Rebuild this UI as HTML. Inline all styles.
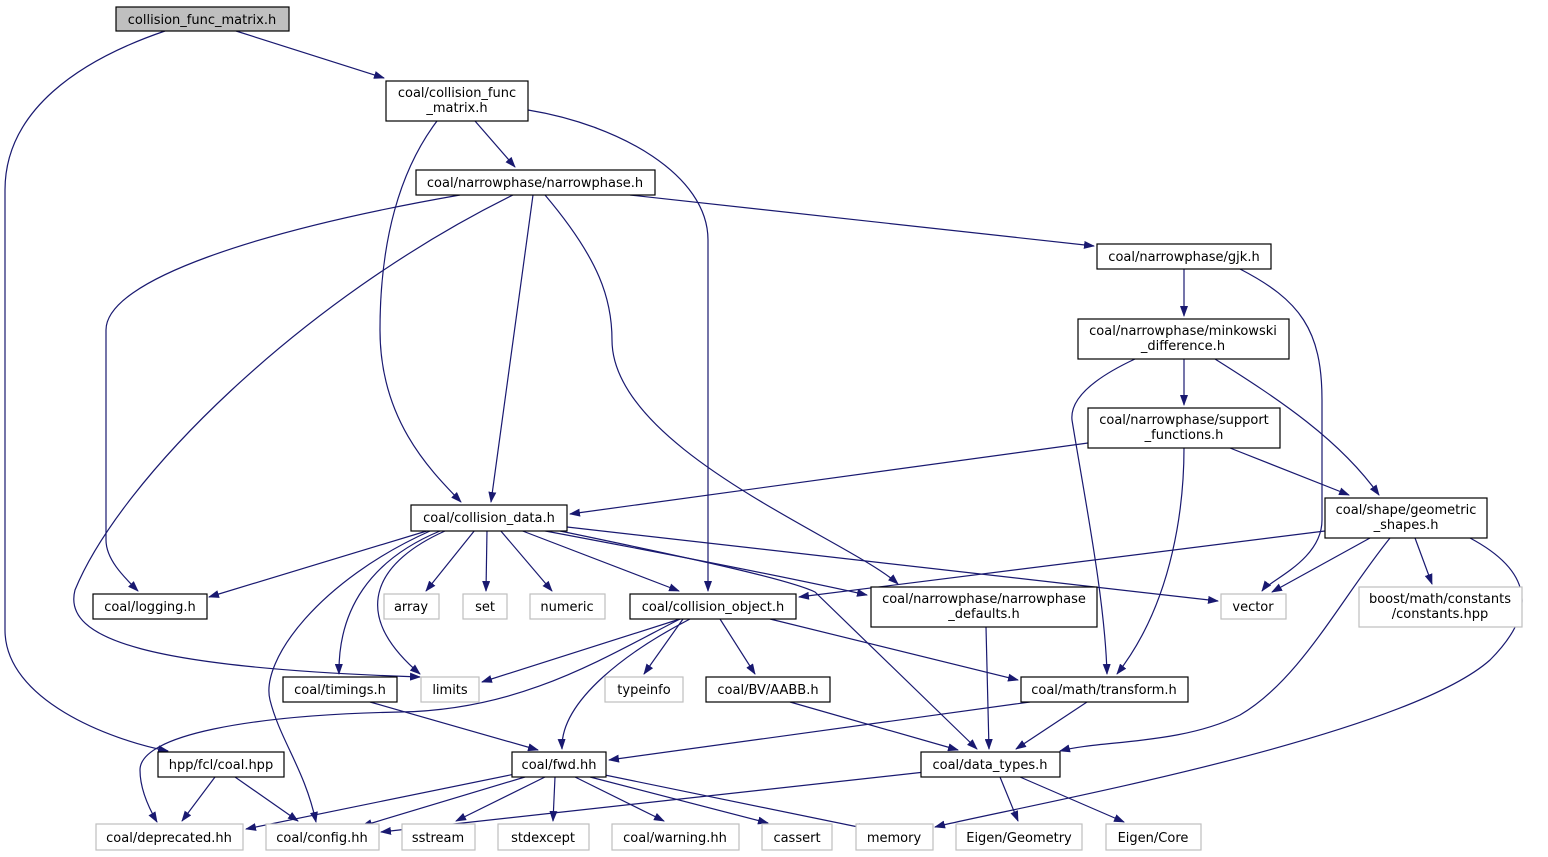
<!DOCTYPE html>
<html><head><meta charset="utf-8"><style>
html,body{margin:0;padding:0;background:#fff;}
svg{display:block;}
text{font-family:"DejaVu Sans","Liberation Sans",sans-serif;font-size:13px;fill:#000;}
.b{fill:#fff;stroke:#000;stroke-width:1.2;}
.g{fill:#fff;stroke:#bfbfbf;stroke-width:1.2;}
.e{fill:none;stroke:#191970;stroke-width:1.2;marker-end:url(#a);}
</style></head><body>
<svg width="1548" height="857" viewBox="0 0 1548 857" xmlns="http://www.w3.org/2000/svg">
<defs><marker id="a" markerWidth="11" markerHeight="8" refX="10" refY="4" orient="auto" markerUnits="userSpaceOnUse"><polygon points="0,0 11,4 0,8" fill="#191970"/></marker></defs>
<g>
<path class="e" d="M236,31 L384,78"/>
<path class="e" d="M165,31 C80,60 5,110 5,190 L5,630 C5,700 110,740 168,751"/>
<path class="e" d="M475,121 L515,167"/>
<path class="e" d="M437,121 C400,170 380,240 380,330 C380,420 430,470 461,502"/>
<path class="e" d="M528,110 C620,125 708,175 708,240 L708,591"/>
<path class="e" d="M630,195 L1094,246"/>
<path class="e" d="M460,195 C260,230 106,280 106,330 L106,540 C106,560 125,578 138,591"/>
<path class="e" d="M513,195 C300,300 120,480 75,590 C62,640 150,668 420,677"/>
<path class="e" d="M533,195 L491,502"/>
<path class="e" d="M545,195 C600,260 612,300 612,340 C612,450 850,540 898,584"/>
<path class="e" d="M1184,269 L1184,316"/>
<path class="e" d="M1240,269 C1300,300 1322,330 1322,400 L1322,520 C1322,560 1270,580 1262,591"/>
<path class="e" d="M1184,359 L1184,405"/>
<path class="e" d="M1215,359 C1280,400 1340,440 1379,495"/>
<path class="e" d="M1135,359 C1090,380 1070,400 1072,420 C1085,500 1105,600 1107,674"/>
<path class="e" d="M1088,443 L570,514"/>
<path class="e" d="M1230,448 L1349,495"/>
<path class="e" d="M1184,448 C1184,500 1175,600 1117,674"/>
<path class="e" d="M1325,531 L799,597"/>
<path class="e" d="M1370,538 L1272,592"/>
<path class="e" d="M1390,538 C1340,600 1300,680 1240,715 C1180,745 1100,740 1060,751"/>
<path class="e" d="M1470,538 C1530,570 1540,610 1490,660 C1400,740 1000,810 935,827"/>
<path class="e" d="M1415,538 L1432,584"/>
<path class="e" d="M430,530 L209,597"/>
<path class="e" d="M475,530 L426,591"/>
<path class="e" d="M487,530 L486,591"/>
<path class="e" d="M500,530 L552,591"/>
<path class="e" d="M520,530 L679,591"/>
<path class="e" d="M540,530 C700,560 800,580 867,595"/>
<path class="e" d="M567,527 L1218,601"/>
<path class="e" d="M440,531 C370,560 338,610 339,674"/>
<path class="e" d="M445,531 C380,560 345,610 420,674"/>
<path class="e" d="M430,531 C320,580 260,660 270,700 C280,740 305,770 316,822"/>
<path class="e" d="M560,531 C700,560 790,580 815,592 L977,749"/>
<path class="e" d="M680,619 L482,682"/>
<path class="e" d="M683,619 L644,674"/>
<path class="e" d="M720,619 L755,674"/>
<path class="e" d="M770,619 L1018,680"/>
<path class="e" d="M690,619 C630,650 560,700 562,749"/>
<path class="e" d="M680,619 C600,660 520,710 400,712 C250,715 140,735 140,770 C140,790 150,810 157,822"/>
<path class="e" d="M986,627 L989,749"/>
<path class="e" d="M1030,702 L609,760"/>
<path class="e" d="M1087,702 L1016,749"/>
<path class="e" d="M370,702 L538,750"/>
<path class="e" d="M790,702 L958,750"/>
<path class="e" d="M215,777 L182,821"/>
<path class="e" d="M235,777 L298,821"/>
<path class="e" d="M515,774 L246,829"/>
<path class="e" d="M525,777 L362,826"/>
<path class="e" d="M545,777 L456,821"/>
<path class="e" d="M555,777 L553,821"/>
<path class="e" d="M575,777 L664,821"/>
<path class="e" d="M590,777 L768,823"/>
<path class="e" d="M600,774 L868,829"/>
<path class="e" d="M925,772 L381,832"/>
<path class="e" d="M1000,777 L1018,821"/>
<path class="e" d="M1020,777 L1124,822"/>
</g>
<g>
<rect x="116" y="7" width="173" height="24" fill="#bfbfbf" stroke="#000" stroke-width="1.2"/><text x="202" y="24" text-anchor="middle">collision_func_matrix.h</text>
<rect class="b" x="386" y="81" width="142" height="40"/><text x="457" y="97" text-anchor="middle">coal/collision_func</text><text x="457" y="112" text-anchor="middle">_matrix.h</text>
<rect class="b" x="416" y="170" width="239" height="25"/><text x="535" y="187" text-anchor="middle">coal/narrowphase/narrowphase.h</text>
<rect class="b" x="1097" y="244" width="174" height="25"/><text x="1184" y="261" text-anchor="middle">coal/narrowphase/gjk.h</text>
<rect class="b" x="1078" y="319" width="211" height="40"/><text x="1183" y="335" text-anchor="middle">coal/narrowphase/minkowski</text><text x="1183" y="350" text-anchor="middle">_difference.h</text>
<rect class="b" x="1088" y="408" width="192" height="40"/><text x="1184" y="424" text-anchor="middle">coal/narrowphase/support</text><text x="1184" y="439" text-anchor="middle">_functions.h</text>
<rect class="b" x="1325" y="498" width="162" height="40"/><text x="1406" y="514" text-anchor="middle">coal/shape/geometric</text><text x="1406" y="529" text-anchor="middle">_shapes.h</text>
<rect class="b" x="411" y="505" width="156" height="26"/><text x="489" y="522" text-anchor="middle">coal/collision_data.h</text>
<rect class="b" x="93" y="594" width="114" height="25"/><text x="150" y="611" text-anchor="middle">coal/logging.h</text>
<rect class="g" x="384" y="594" width="55" height="25"/><text x="411" y="611" text-anchor="middle">array</text>
<rect class="g" x="463" y="594" width="44" height="25"/><text x="485" y="611" text-anchor="middle">set</text>
<rect class="g" x="530" y="594" width="75" height="25"/><text x="567" y="611" text-anchor="middle">numeric</text>
<rect class="b" x="630" y="594" width="166" height="25"/><text x="713" y="611" text-anchor="middle">coal/collision_object.h</text>
<rect class="b" x="871" y="587" width="226" height="40"/><text x="984" y="603" text-anchor="middle">coal/narrowphase/narrowphase</text><text x="984" y="618" text-anchor="middle">_defaults.h</text>
<rect class="g" x="1221" y="594" width="65" height="25"/><text x="1253" y="611" text-anchor="middle">vector</text>
<rect class="g" x="1359" y="587" width="163" height="40"/><text x="1440" y="603" text-anchor="middle">boost/math/constants</text><text x="1440" y="618" text-anchor="middle">/constants.hpp</text>
<rect class="b" x="283" y="677" width="114" height="25"/><text x="340" y="694" text-anchor="middle">coal/timings.h</text>
<rect class="g" x="421" y="677" width="58" height="25"/><text x="450" y="694" text-anchor="middle">limits</text>
<rect class="g" x="605" y="677" width="78" height="25"/><text x="644" y="694" text-anchor="middle">typeinfo</text>
<rect class="b" x="706" y="677" width="124" height="25"/><text x="768" y="694" text-anchor="middle">coal/BV/AABB.h</text>
<rect class="b" x="1021" y="677" width="167" height="25"/><text x="1104" y="694" text-anchor="middle">coal/math/transform.h</text>
<rect class="b" x="158" y="752" width="126" height="25"/><text x="221" y="769" text-anchor="middle">hpp/fcl/coal.hpp</text>
<rect class="b" x="512" y="752" width="94" height="25"/><text x="559" y="769" text-anchor="middle">coal/fwd.hh</text>
<rect class="b" x="921" y="752" width="139" height="25"/><text x="990" y="769" text-anchor="middle">coal/data_types.h</text>
<rect class="g" x="96" y="824" width="147" height="26"/><text x="169" y="842" text-anchor="middle">coal/deprecated.hh</text>
<rect class="g" x="266" y="824" width="113" height="26"/><text x="322" y="842" text-anchor="middle">coal/config.hh</text>
<rect class="g" x="402" y="824" width="73" height="26"/><text x="438" y="842" text-anchor="middle">sstream</text>
<rect class="g" x="498" y="824" width="91" height="26"/><text x="543" y="842" text-anchor="middle">stdexcept</text>
<rect class="g" x="612" y="824" width="127" height="26"/><text x="675" y="842" text-anchor="middle">coal/warning.hh</text>
<rect class="g" x="762" y="824" width="70" height="26"/><text x="797" y="842" text-anchor="middle">cassert</text>
<rect class="g" x="856" y="824" width="77" height="26"/><text x="894" y="842" text-anchor="middle">memory</text>
<rect class="g" x="956" y="824" width="126" height="26"/><text x="1019" y="842" text-anchor="middle">Eigen/Geometry</text>
<rect class="g" x="1106" y="824" width="95" height="26"/><text x="1153" y="842" text-anchor="middle">Eigen/Core</text>
</g>
</svg>
</body></html>
